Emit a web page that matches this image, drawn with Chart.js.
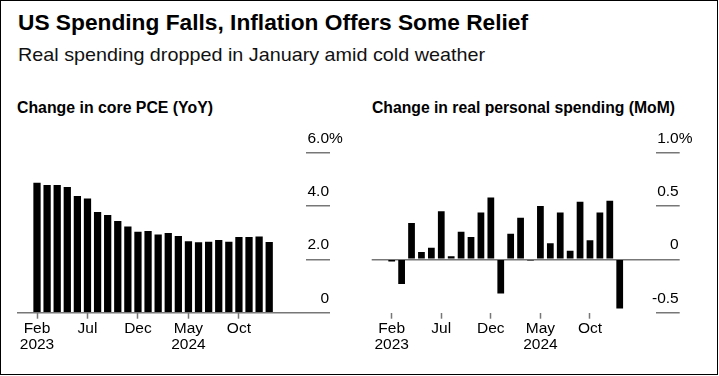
<!DOCTYPE html>
<html><head><meta charset="utf-8">
<script src="https://cdn.jsdelivr.net/npm/chart.js@4.4.1/dist/chart.umd.min.js"></script>
<style>
html,body{margin:0;padding:0;background:#fff;}
body{width:719px;height:376px;position:relative;overflow:hidden;font-family:"Liberation Sans",Arial,sans-serif;color:#000;}
#frame{position:absolute;left:0;top:0;width:718px;height:375px;border:1px solid #000;box-sizing:border-box;}
.t{position:absolute;white-space:nowrap;line-height:1;transform-origin:0 0;}
#title{left:18px;top:12px;font-size:22.5px;font-weight:bold;font-family:"Liberation Sans Narrow","Liberation Sans",sans-serif;}
#sub{left:18px;top:45px;font-size:19px;color:#111;}
#lt{left:17px;top:100px;font-size:16px;font-weight:bold;}
#rt{left:372px;top:100px;font-size:16px;font-weight:bold;}
canvas{position:absolute;}
#cL{left:0;top:130px;}
#cR{left:360px;top:130px;}
</style></head>
<body>
<div id="frame"></div>
<div class="t" id="title" data-w="510">US Spending Falls, Inflation Offers Some Relief</div>
<div class="t" id="sub" data-w="467">Real spending dropped in January amid cold weather</div>
<div class="t" id="lt" data-w="196">Change in core PCE (YoY)</div>
<div class="t" id="rt" data-w="303">Change in real personal spending (MoM)</div>
<canvas id="cL" width="345" height="240"></canvas>
<canvas id="cR" width="345" height="240"></canvas>
<script>
// ---- data ----
const months = ['Feb 2023','Mar 2023','Apr 2023','May 2023','Jun 2023','Jul 2023','Aug 2023','Sep 2023','Oct 2023','Nov 2023','Dec 2023',
  'Jan 2024','Feb 2024','Mar 2024','Apr 2024','May 2024','Jun 2024','Jul 2024','Aug 2024','Sep 2024','Oct 2024','Nov 2024','Dec 2024','Jan 2025'];
const corePceYoY = [4.87,4.79,4.79,4.71,4.38,4.28,3.78,3.66,3.44,3.23,3.04,3.06,2.93,2.99,2.88,2.68,2.64,2.66,2.73,2.66,2.84,2.84,2.86,2.65];
const realSpendingMoM = [-0.02,-0.23,0.34,0.07,0.11,0.45,0.03,0.26,0.21,0.44,0.58,-0.32,0.24,0.39,-0.01,0.50,0.15,0.44,0.08,0.54,0.18,0.44,0.55,-0.46];
const xTickMonths = ['Feb 2023','Jul 2023','Dec 2023','May 2024','Oct 2024'];
const xTickLabels = [['Feb','2023'],'Jul','Dec',['May','2024'],'Oct'];
const pceTicks = [0,2,4,6];
const pceTickLabels = ['0','2.0','4.0','6.0%'];
const spendTicks = [-0.5,0,0.5,1.0];
const spendTickLabels = ['-0.5','0','0.5','1.0%'];

// fit text widths
document.querySelectorAll('[data-w]').forEach(el => {
  const w = el.getBoundingClientRect().width;
  el.style.transform = 'scaleX(' + (+el.dataset.w / w) + ')';
});

const FONT = '"Liberation Sans", Arial, sans-serif';
const GRAY = '#777';

const yLabelPlugin = {
  id: 'yLabels',
  afterDraw(chart, args, opts) {
    const s = chart.scales.y, ctx = chart.ctx;
    ctx.save();
    ctx.font = '15.5px ' + FONT;
    ctx.fillStyle = '#000';
    ctx.textBaseline = 'alphabetic';
    s.ticks.forEach((t, i) => {
      const y = s.getPixelForValue(t.value) - 10;
      const x = s.right - 1;
      let txt = opts.labels[i], suf = '';
      if (txt.endsWith('%')) { suf = '%'; txt = txt.slice(0, -1); }
      ctx.textAlign = 'right'; ctx.fillText(txt, x, y);
      if (suf) { ctx.textAlign = 'left'; ctx.fillText(suf, x, y); }
    });
    ctx.restore();
  }
};

function makeChart(id, values, yMin, yMax, yTicks, yLabels, xMin, xMax, barPct, pad) {
  return new Chart(document.getElementById(id), {
    type: 'bar',
    data: { datasets: [{
      data: values.map((v, i) => ({ x: i, y: v })),
      backgroundColor: '#000', borderWidth: 0,
      barPercentage: barPct, categoryPercentage: 1
    }]},
    options: {
      responsive: false, animation: false, events: [],
      layout: { autoPadding: false, padding: pad },
      plugins: { legend: { display: false }, tooltip: { enabled: false }, yLabels: { labels: yLabels } },
      scales: {
        x: {
          type: 'linear', min: xMin, max: xMax, position: 'bottom', offset: false,
          afterBuildTicks: s => { s.ticks = xTickMonths.map(m => ({ value: months.indexOf(m) })); },
          afterFit: s => { s.height = 45; },
          ticks: { autoSkip: false, maxRotation: 0, minRotation: 0, padding: 2, color: '#000',
            font: { family: FONT, size: 15.5, lineHeight: 16 / 15.5 },
            callback: v => xTickLabels[xTickMonths.indexOf(months[v])] },
          grid: { offset: false, drawOnChartArea: false, drawTicks: true, tickLength: 6, tickColor: GRAY, tickWidth: 1.5 },
          border: { display: false }
        },
        y: {
          position: 'right', min: yMin, max: yMax,
          afterBuildTicks: s => { s.ticks = yTicks.map(v => ({ value: v })); },
          afterFit: s => { s.width = 24; },
          ticks: { display: false },
          grid: { drawOnChartArea: true, lineWidth: 1.5,
            color: c => (c.tick && c.tick.value === 0) ? GRAY : 'rgba(0,0,0,0)',
            drawTicks: true, tickLength: 24, tickColor: GRAY, tickWidth: 1.5 },
          border: { display: false }
        }
      }
    },
    plugins: [yLabelPlugin]
  });
}

makeChart('cL', corePceYoY, 0, 6, pceTicks, pceTickLabels, -1.981, 26.644, 0.72,
  { left: 17, top: 22.7, right: 15, bottom: 12.3 });
makeChart('cR', realSpendingMoM, -0.5, 1.0, spendTicks, spendTickLabels, -2.018, 26.63, 0.68,
  { left: 11.7, top: 22.7, right: 25.3, bottom: 12.3 });
</script>
</body></html>
